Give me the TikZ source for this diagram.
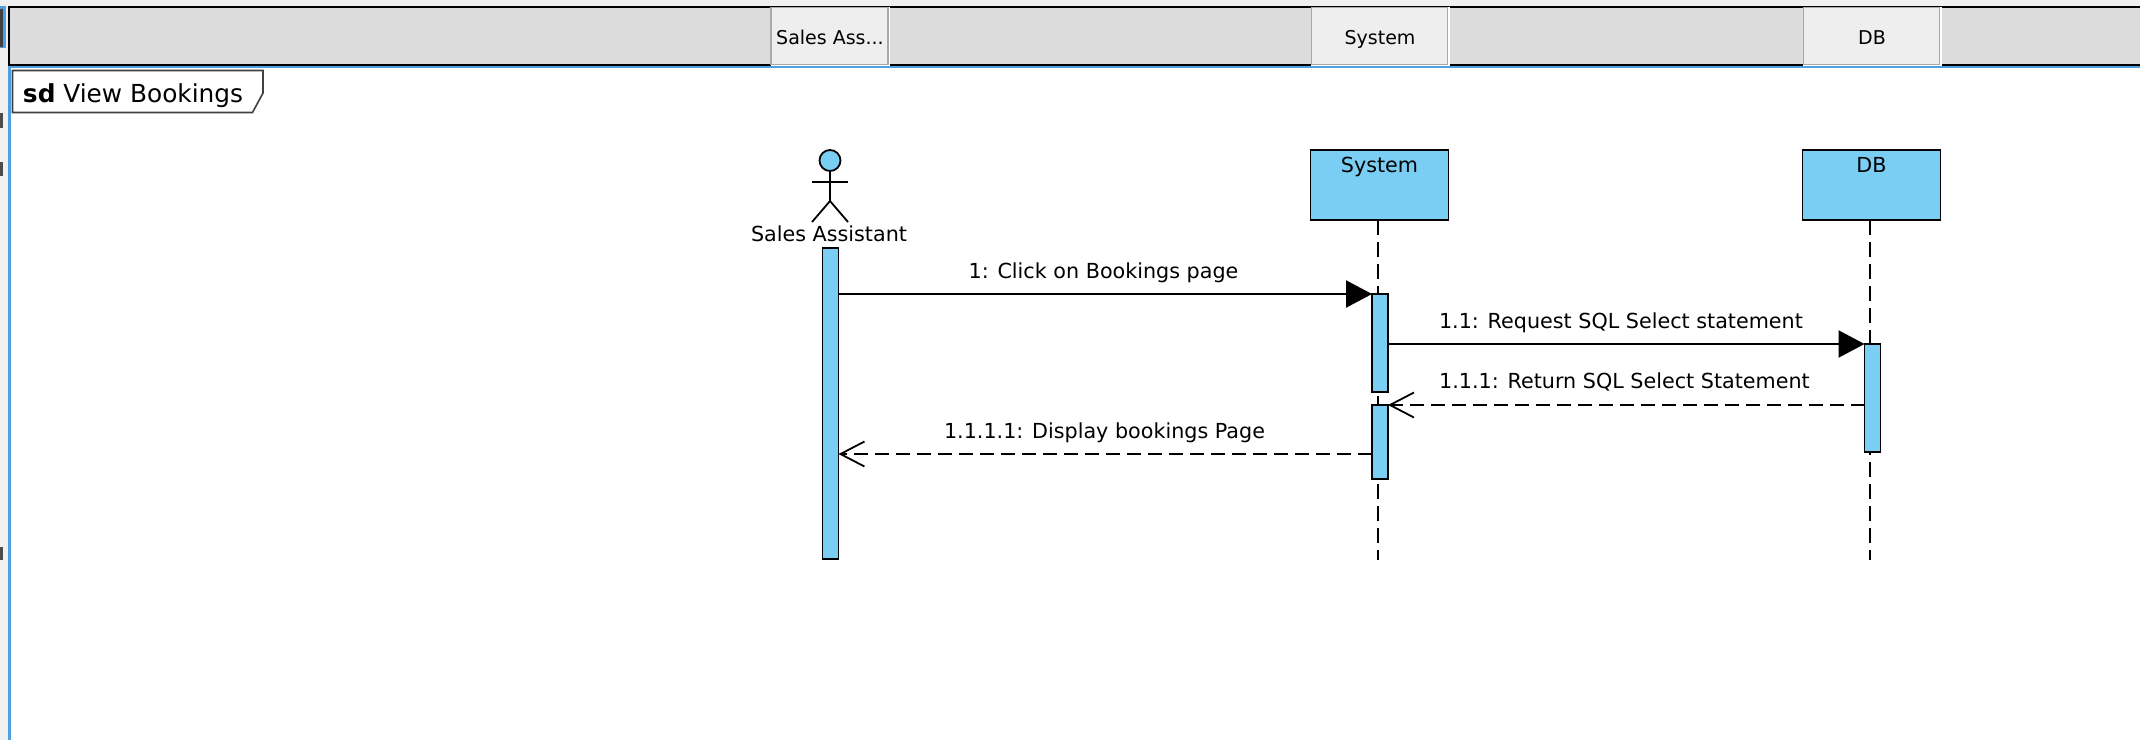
\documentclass[tikz,border=0pt]{standalone}
\usepackage{fontspec}
\setmainfont{DejaVu Sans}
\usetikzlibrary{arrows.meta,calc}
\definecolor{umlblue}{HTML}{7ACEF4}
\definecolor{barfill}{HTML}{DCDCDC}
\definecolor{btnfill}{HTML}{EEEEEE}
\definecolor{btnedge}{HTML}{A9A9A9}
\definecolor{pagebg}{HTML}{F0F0F0}
\definecolor{selblue}{HTML}{4F9FE3}
\tikzset{
  lbl/.style={inner sep=0pt,outer sep=0pt,anchor=base,font=\fontsize{20.7}{25}\selectfont,text=black},
  hlbl/.style={lbl,font=\fontsize{19}{23}\selectfont},
  boxed/.style={draw=black,line width=1.9pt,fill=umlblue,inner sep=0pt,outer sep=0pt,rectangle,minimum width=#1},
  bar/.style={boxed=16pt,line width=1.9pt},
  headbtn/.style={rectangle,draw=btnedge,line width=1.5pt,fill=btnfill,inner sep=0pt,outer sep=0pt,minimum height=57pt},
  life/.style={black,line width=1.8pt,dash pattern=on 15pt off 7pt},
  syncmsg/.style={black,line width=2.2pt,-{Triangle[length=26pt,width=27pt,fill=black]},shorten >=0pt},
  retmsg/.style={black,line width=2.2pt,dash pattern=on 14pt off 7pt,-{Straight Barb[length=24pt,width=25pt,line width=1.8pt]}},
}
\begin{document}
\begin{tikzpicture}[x=1pt,y=-1pt]
\useasboundingbox (0,0) rectangle (2140,740);
\fill[pagebg] (0,0) rectangle (2140,740);
% window chrome
\fill[white] (10.5,67) rectangle (2140,740);
\fill[selblue] (8,65) rectangle (10.5,740);
\fill[selblue] (8,65.5) rectangle (2140,68);
\fill[selblue] (0,6) rectangle (6,48);
\fill[black!75] (0,9) rectangle (3,47);
\fill[black!70] (0,113) rectangle (3,128);
\fill[black!70] (0,162) rectangle (3,176);
\fill[black!70] (0,547) rectangle (3,560);
\draw[black,line width=2pt,fill=barfill] (9,7) rectangle (2141,65);
% header buttons
\draw[white,line width=1.5pt] (771,65.5) -- (889.5,65.5) -- (889.5,7);
\draw[white,line width=1.5pt] (1311,65.5) -- (1449,65.5) -- (1449,7);
\draw[white,line width=1.5pt] (1803,65.5) -- (1941,65.5) -- (1941,7);
\node[headbtn,minimum width=117pt] (hsa) at (829.5,36) {};
\node[headbtn,minimum width=136pt] (hsy) at (1379.5,36) {};
\node[headbtn,minimum width=136pt] (hdb) at (1871.5,36) {};
\node[hlbl] (thsa) at (830,44) {Sales Ass...};
\node[hlbl] (thsy) at (1380,44) {System};
\node[hlbl] (thdb) at (1872,44) {DB};
% frame tag
\draw[black!75,line width=1.6pt,fill=white] (12.5,70.5) -- (263,70.5) -- (263,93) -- (252.5,112.5) -- (12.5,112.5) -- cycle;
\node[lbl,font=\fontsize{24.8}{28}\selectfont,anchor=base west] (tag) at (23,102) {\textbf{sd} View Bookings};
% lifeline heads
\node[boxed=138pt,minimum height=70pt] (sys) at (1379.5,185) {};
\node[boxed=138pt,minimum height=70pt] (db) at (1871.5,185) {};
\node[lbl] (tsys) at (1379.5,172) {System};
\node[lbl] (tdb) at (1871.5,172) {DB};
\coordinate (sysend) at (1378,560);
\coordinate (dbend) at (1870,560);
\draw[life] (sysend |- sys.south) -- (sysend);
\draw[life] (dbend |- db.south) -- (dbend);
% actor
\node[circle,draw=black,line width=1.8pt,fill=umlblue,inner sep=0pt,outer sep=0pt,minimum size=21pt] (head) at (830,160.5) {};
\coordinate (hip) at (830,201);
\coordinate (armL) at (812,182);
\coordinate (armR) at (848,182);
\coordinate (legL) at (812,222);
\coordinate (legR) at (848,222);
\draw[black,line width=1.8pt] (head.south) -- (hip);
\draw[black,line width=1.8pt] (armL) -- (armR);
\draw[black,line width=1.8pt] (legL) -- (hip) -- (legR);
\node[lbl] (tsa) at (829,241) {Sales Assistant};
% activations
\node[bar,minimum height=311pt] (asa) at (830.5,403.5) {};
\node[bar,minimum height=98pt] (as1) at (1380,343) {};
\node[bar,minimum height=74pt] (as2) at (1380,442) {};
\node[bar,minimum height=108pt] (adb) at (1872.5,398) {};
% messages
\coordinate (m4) at (as2.west |- 0,454);
\draw[syncmsg] (asa.east |- as1.north) -- (as1.north west);
\draw[syncmsg] (as1.east |- adb.north) -- (adb.north west);
\draw[retmsg] (adb.west |- as2.north) -- (as2.north east);
\draw[retmsg] (m4) -- (asa.east |- m4);
\node[lbl] (t1) at (1103.5,278) {1: Click on Bookings page};
\node[lbl] (t2) at (1621,328) {1.1: Request SQL Select statement};
\node[lbl] (t3) at (1624.5,388) {1.1.1: Return SQL Select Statement};
\node[lbl] (t4) at (1104.5,438) {1.1.1.1: Display bookings Page};
\end{tikzpicture}
\end{document}
